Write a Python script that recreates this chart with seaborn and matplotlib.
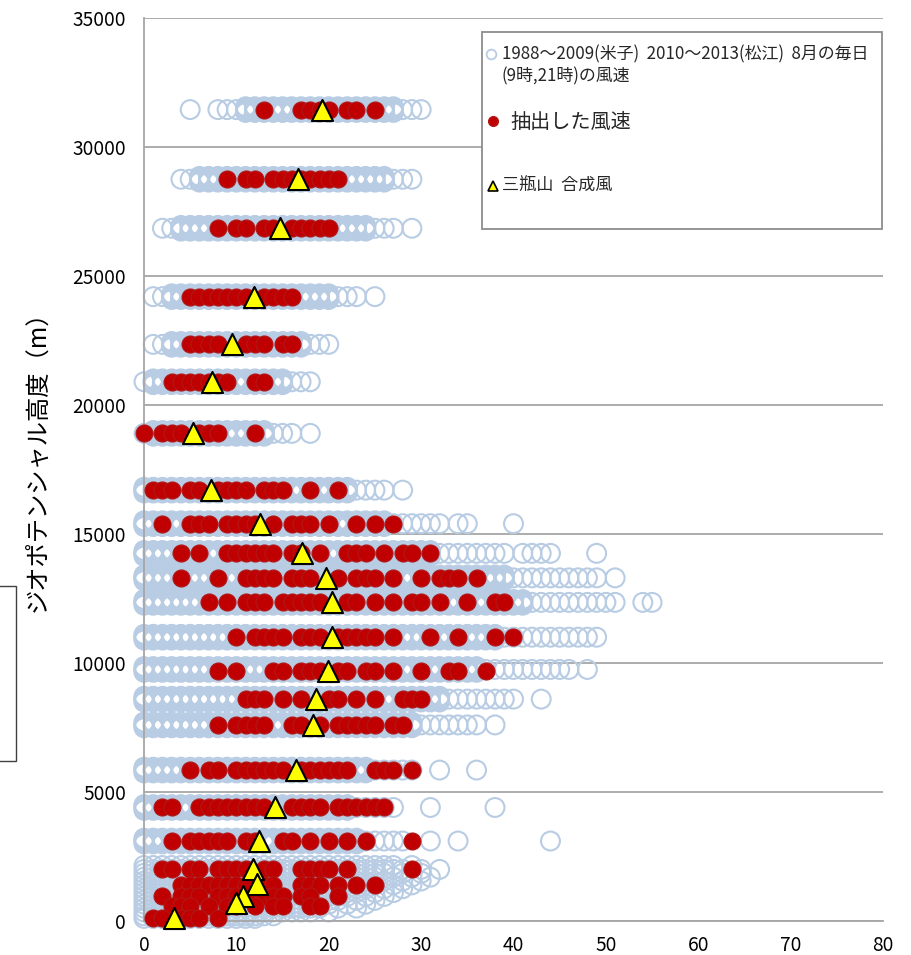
import matplotlib
matplotlib.use("Agg")
import matplotlib.pyplot as plt
import seaborn as sns
import pandas as pd
from matplotlib.patches import Rectangle

# ---------------- data ----------------
# upper-air levels: main geopotential height (m) of each level
level_heights = [31450, 28750, 26850, 24200, 22350, 20900, 18900, 16700, 15400, 14250,
                 13300, 12350, 11000, 9750, 8600, 7600, 5850, 4400, 3100]
# day-to-day height variation of each level (m)
level_extra_heights = [
    [31340, 31400, 31500, 31560],
    [28640, 28700, 28800, 28860],
    [26740, 26800, 26900, 26960],
    [24090, 24150, 24250, 24310],
    [22240, 22300, 22400, 22460],
    [20790, 20850, 20950, 21010],
    [18790, 18850, 18950, 19010],
    [16590, 16650, 16750, 16810],
    [15290, 15350, 15450, 15510],
    [14140, 14200, 14300, 14360],
    [13190, 13250, 13350, 13410],
    [12240, 12300, 12400, 12460],
    [10890, 10950, 11050, 11110],
    [9640, 9700, 9800, 9860],
    [8490, 8550, 8650, 8710],
    [7490, 7550, 7650, 7710],
    [5740, 5800, 5900, 5960],
    [4290, 4350, 4450, 4510],
    [2990, 3050, 3150, 3210],
]
# wind speeds (m/s): frequent values (all heights of the level)
level_core_speeds = [
    [11, 12, 13, 14, 15, 16, 17, 18, 19, 20, 21, 22, 23, 24, 25, 26, 27],
    [6, 7, 8, 9, 10, 11, 12, 13, 14, 15, 16, 17, 18, 19, 20, 21, 22, 23, 24, 25, 26],
    [4, 5, 6, 7, 8, 9, 10, 11, 12, 13, 14, 15, 16, 17, 18, 19, 20, 21, 22, 23, 24],
    [3, 4, 5, 6, 7, 8, 9, 10, 11, 12, 13, 14, 15, 16, 17, 18, 19, 20],
    [3, 4, 5, 6, 7, 8, 9, 10, 11, 12, 13, 14, 15, 16, 17],
    [1, 2, 3, 4, 5, 6, 7, 8, 9, 10, 11, 12, 13, 14, 15],
    [1, 2, 3, 4, 5, 6, 7, 8, 9, 10, 11, 12, 13],
    [0, 1, 2, 3, 4, 5, 6, 7, 8, 9, 10, 11, 12, 13, 14, 15, 16, 17, 18, 19, 20, 21, 22],
    [0, 1, 2, 3, 4, 5, 6, 7, 8, 9, 10, 11, 12, 13, 14, 15, 16, 17, 18, 19, 20, 21, 22, 23, 24, 25, 26],
    [0, 1, 2, 3, 4, 5, 6, 7, 8, 9, 10, 11, 12, 13, 14, 15, 16, 17, 18, 19, 20, 21, 22, 23, 24, 25, 26, 27, 28, 29, 30, 31],
    [0, 1, 2, 3, 4, 5, 6, 7, 8, 9, 10, 11, 12, 13, 14, 15, 16, 17, 18, 19, 20, 21, 22, 23, 24, 25, 26, 27, 28, 29, 30, 31, 32, 33, 34, 35, 36, 37, 38, 39],
    [0, 1, 2, 3, 4, 5, 6, 7, 8, 9, 10, 11, 12, 13, 14, 15, 16, 17, 18, 19, 20, 21, 22, 23, 24, 25, 26, 27, 28, 29, 30, 31, 32, 33, 34, 35, 36, 37, 38, 39, 40, 41],
    [0, 1, 2, 3, 4, 5, 6, 7, 8, 9, 10, 11, 12, 13, 14, 15, 16, 17, 18, 19, 20, 21, 22, 23, 24, 25, 26, 27, 28, 29, 30, 31, 32, 33, 34, 35, 36, 37, 38],
    [0, 1, 2, 3, 4, 5, 6, 7, 8, 9, 10, 11, 12, 13, 14, 15, 16, 17, 18, 19, 20, 21, 22, 23, 24, 25, 26, 27, 28, 29, 30, 31, 32, 33, 34, 35, 36],
    [0, 1, 2, 3, 4, 5, 6, 7, 8, 9, 10, 11, 12, 13, 14, 15, 16, 17, 18, 19, 20, 21, 22, 23, 24, 25, 26, 27, 28, 29, 30, 31, 32],
    [0, 1, 2, 3, 4, 5, 6, 7, 8, 9, 10, 11, 12, 13, 14, 15, 16, 17, 18, 19, 20, 21, 22, 23, 24, 25, 26, 27, 28, 29],
    [0, 1, 2, 3, 4, 5, 6, 7, 8, 9, 10, 11, 12, 13, 14, 15, 16, 17, 18, 19, 20, 21, 22, 23, 24],
    [0, 1, 2, 3, 4, 5, 6, 7, 8, 9, 10, 11, 12, 13, 14, 15, 16, 17, 18, 19, 20, 21, 22],
    [0, 1, 2, 3, 4, 5, 6, 7, 8, 9, 10, 11, 12, 13, 14, 15, 16, 17, 18, 19, 20, 21, 22, 23],
]
# less frequent values at the edges of each level's distribution
level_fringe_speeds = [
    [9, 10, 28, 29, 30],
    [4, 5, 27, 28, 29],
    [2, 3, 25, 26, 27],
    [1, 2, 21, 22, 23],
    [1, 2, 18, 19, 20],
    [0, 16, 17, 18],
    [0, 14, 15, 16],
    [23, 24, 25, 26],
    [27, 28, 29, 30],
    [32, 33, 34, 35, 36],
    [40, 41, 42, 43, 44, 45],
    [42, 43, 44, 45, 46, 47, 48],
    [39, 40, 41, 42, 43, 44],
    [37, 38, 39, 40, 41],
    [33, 34, 35, 36, 37],
    [30, 31, 32, 33],
    [25, 26, 27, 28],
    [23, 24, 25, 26],
    [24, 25, 26, 27],
]
# rare (isolated) values
level_rare_speeds = [
    [5, 8],
    [],
    [29],
    [25],
    [],
    [],
    [18],
    [28],
    [31, 32, 34, 35, 40],
    [37, 38, 39, 41, 42, 43, 44, 49],
    [46, 47, 48, 49, 51],
    [49, 50, 51, 54, 55],
    [45, 46, 47, 48, 49],
    [42, 43, 44, 45, 46, 48],
    [38, 39, 40, 43],
    [34, 35, 36, 38],
    [29, 32, 36],
    [27, 31, 38],
    [28, 31, 34, 44],
]

# surface layer (0 - 2200 m)
low_heights = [2150, 2000, 1850, 1700, 1550, 1400, 1250, 1100, 950, 800, 650, 500, 350, 200, 100]
low_speeds = [
    [0, 1, 2, 3, 4, 5, 6, 7, 8, 9, 10, 11, 12, 13, 14, 15, 16, 17, 18, 19, 20, 21, 22, 23, 24, 25, 26, 27, 29],
    [0, 1, 2, 3, 4, 5, 6, 7, 8, 9, 10, 11, 12, 13, 14, 15, 16, 17, 18, 19, 20, 21, 22, 23, 24, 25, 26, 27, 28, 30, 32],
    [0, 1, 2, 3, 4, 5, 6, 7, 8, 9, 10, 11, 12, 13, 14, 15, 16, 17, 18, 19, 20, 21, 22, 23, 24, 25, 26, 28, 30],
    [0, 1, 2, 3, 4, 5, 6, 7, 8, 9, 10, 11, 12, 13, 14, 15, 16, 17, 18, 19, 20, 21, 22, 23, 24, 25, 27, 29, 31],
    [0, 1, 2, 3, 4, 5, 6, 7, 8, 9, 10, 11, 12, 13, 14, 15, 16, 17, 18, 19, 20, 21, 22, 23, 24, 26, 28, 30],
    [0, 1, 2, 3, 4, 5, 6, 7, 8, 9, 10, 11, 12, 13, 14, 15, 16, 17, 18, 19, 20, 21, 22, 23, 24, 25, 27, 29],
    [0, 1, 2, 3, 4, 5, 6, 7, 8, 9, 10, 11, 12, 13, 14, 15, 16, 17, 18, 19, 20, 21, 22, 23, 24, 26, 28],
    [0, 1, 2, 3, 4, 5, 6, 7, 8, 9, 10, 11, 12, 13, 14, 15, 16, 17, 18, 19, 20, 21, 22, 23, 25, 27],
    [0, 1, 2, 3, 4, 5, 6, 7, 8, 9, 10, 11, 12, 13, 14, 15, 16, 17, 18, 19, 20, 21, 22, 24, 26],
    [0, 1, 2, 3, 4, 5, 6, 7, 8, 9, 10, 11, 12, 13, 14, 15, 16, 17, 18, 19, 20, 21, 23, 25],
    [0, 1, 2, 3, 4, 5, 6, 7, 8, 9, 10, 11, 12, 13, 14, 15, 16, 17, 18, 19, 20, 22, 24],
    [0, 1, 2, 3, 4, 5, 6, 7, 8, 9, 10, 11, 12, 13, 14, 15, 16, 17, 18, 19, 21, 23],
    [0, 1, 2, 3, 4, 5, 6, 7, 8, 9, 10, 11, 12, 13, 14, 15, 16, 17, 18, 20],
    [0, 1, 2, 3, 4, 5, 6, 7, 8, 9, 10, 11, 12, 13, 14],
    [0, 1, 2, 3, 4, 5, 6, 7, 8, 9, 10, 11, 12],
]

# extracted wind speeds
red_heights = [31450, 28750, 26850, 24200, 22350, 20900, 18900, 16700, 15400, 14250,
               13300, 12350, 11000, 9700, 8600, 7600, 5850, 4400, 3100, 2000,
               1400, 950, 600, 100]
red_speeds = [
    [13, 17, 18, 19, 20, 22, 23, 25],
    [9, 11, 12, 14, 15, 16, 17, 18, 19, 20, 21],
    [8, 10, 11, 13, 14, 16, 17, 18, 19, 20],
    [5, 6, 7, 8, 9, 10, 11, 13, 14, 15, 16],
    [5, 6, 7, 8, 11, 12, 13, 15, 16],
    [3, 4, 5, 6, 7, 8, 9, 12, 13],
    [0, 2, 3, 4, 6, 7, 8, 12],
    [1, 2, 3, 5, 6, 8, 9, 10, 11, 13, 14, 15, 18, 21],
    [2, 5, 6, 7, 9, 10, 11, 12, 14, 16, 17, 18, 20, 23, 25, 27],
    [4, 6, 9, 10, 11, 12, 13, 14, 16, 17, 19, 22, 23, 24, 26, 28, 29, 31],
    [4, 8, 11, 12, 13, 14, 16, 17, 18, 21, 23, 24, 25, 27, 30, 32, 33, 34, 36],
    [7, 9, 11, 12, 13, 15, 16, 17, 18, 19, 22, 23, 25, 27, 29, 30, 32, 35, 38, 39],
    [10, 12, 13, 14, 15, 17, 18, 19, 21, 22, 23, 24, 25, 27, 31, 34, 38, 40],
    [8, 10, 14, 15, 17, 18, 19, 21, 22, 24, 25, 27, 30, 33, 34, 37],
    [11, 12, 13, 15, 17, 20, 21, 23, 25, 28, 29, 30],
    [8, 10, 11, 12, 13, 16, 17, 19, 21, 22, 23, 24, 25, 27, 28],
    [5, 7, 8, 10, 11, 12, 13, 14, 15, 17, 18, 19, 20, 21, 22, 25, 26, 27, 29],
    [2, 3, 6, 7, 8, 9, 10, 11, 12, 13, 16, 17, 18, 19, 21, 22, 23, 24, 25, 26],
    [3, 5, 6, 7, 8, 9, 11, 12, 15, 16, 18, 20, 22, 24, 29],
    [2, 3, 5, 6, 8, 9, 10, 11, 13, 14, 17, 18, 19, 20, 22, 29],
    [4, 5, 6, 7, 8, 9, 10, 11, 13, 14, 17, 18, 19, 21, 23, 25],
    [2, 4, 5, 6, 8, 9, 10, 12, 13, 14, 15, 17, 18, 21],
    [3, 4, 5, 7, 9, 10, 12, 14, 15, 18, 19],
    [1, 2, 4, 5, 6, 8],
]

# 三瓶山 合成風
tri_speeds = [19.3, 16.7, 14.7, 11.9, 9.5, 7.4, 5.3, 7.3, 12.6, 17.1, 19.7, 20.4,
              20.3, 19.9, 18.6, 18.3, 16.5, 14.2, 12.4, 11.8, 12.2, 10.7, 10.0, 3.2]
tri_heights = [31450, 28750, 26850, 24200, 22350, 20900, 18900, 16700, 15400, 14250,
               13300, 12350, 11000, 9700, 8600, 7600, 5850, 4400, 3100, 2000,
               1450, 950, 700, 100]

x_ticks = [0, 10, 20, 30, 40, 50, 60, 70, 80]
y_ticks = [0, 5000, 10000, 15000, 20000, 25000, 30000, 35000]

legend_blue = "1988～2009(米子)  2010～2013(松江)  8月の毎日"
legend_blue2 = "(9時,21時)の風速"
legend_red = "抽出した風速"
legend_tri = "三瓶山  合成風"
y_label = "ジオポテンシャル高度（m）"

# ---------------- tables ----------------
rows = []
for h, extra, core, fringe, rare in zip(level_heights, level_extra_heights,
                                        level_core_speeds, level_fringe_speeds,
                                        level_rare_speeds):
    for v in core + fringe + rare:
        rows.append((v, h))
    for he in extra:
        for v in core:
            rows.append((v, he))
for h, vs in zip(low_heights, low_speeds):
    for v in vs:
        rows.append((v, h))
blue_df = pd.DataFrame(rows, columns=["speed", "height"])
red_df = pd.DataFrame(
    [(v, h) for h, vs in zip(red_heights, red_speeds) for v in vs],
    columns=["speed", "height"])
tri_df = pd.DataFrame({"speed": tri_speeds, "height": tri_heights})

# ---------------- style ----------------
sns.set_theme(style="white")
plt.rcParams["font.family"] = ["Noto Sans CJK JP", "DejaVu Sans"]

fig = plt.figure(figsize=(9.12, 9.55), dpi=100)
ax = fig.add_axes([144 / 912, 34 / 955, 739 / 912, 903 / 955])

GRID = "#a6a6a6"
BLUE = "#b8cce4"

sns.scatterplot(data=blue_df, x="speed", y="height", ax=ax, marker="o", s=185,
                color=BLUE, edgecolor=BLUE, linewidth=1.5, legend=False,
                clip_on=False, zorder=2)
ax.collections[-1].set_facecolor("none")

sns.scatterplot(data=red_df, x="speed", y="height", ax=ax, marker="o", s=150,
                color="#c00000", edgecolor="#b01818", linewidth=0.8, legend=False,
                clip_on=False, zorder=3)

sns.scatterplot(data=tri_df, x="speed", y="height", ax=ax, marker="^", s=230,
                color="#ffff00", edgecolor="black", linewidth=1.5, legend=False,
                clip_on=False, zorder=4)

ax.set_xlim(0, 80)
ax.set_ylim(0, 35000)
ax.set_xticks(x_ticks)
ax.set_xticklabels([str(t) for t in x_ticks])
ax.set_yticks(y_ticks)
ax.set_yticklabels([str(t) for t in y_ticks])
ax.set_xlabel("")
ax.set_ylabel("")

ax.set_axisbelow(True)
ax.grid(False)
ax.yaxis.grid(True, color=GRID, linewidth=1.3)
for side in ["top", "right"]:
    ax.spines[side].set_visible(False)
for side in ["left", "bottom"]:
    ax.spines[side].set_color(GRID)
    ax.spines[side].set_linewidth(1.3)
ax.tick_params(axis="both", which="major", direction="out", length=5,
               width=1.2, color=GRID, labelsize=13.8, labelcolor="black")
ax.tick_params(axis="y", pad=8)
ax.tick_params(axis="x", pad=5)
ax.set_facecolor("white")

# y label
fig.text(37 / 912, 1 - 455 / 955, y_label, rotation=90, ha="center", va="center",
         fontsize=17.5, color="black")

# ---------------- legend box ----------------
lx0 = (482 - 144) / 739
lx1 = (882 - 144) / 739
ly0 = (921 - 229) / 903
ly1 = (921 - 32) / 903
ax.add_patch(Rectangle((lx0, ly0), lx1 - lx0, ly1 - ly0, transform=ax.transAxes,
                       facecolor="white", edgecolor="#8c8c8c", linewidth=1.3,
                       zorder=10, clip_on=False))

def ax_xy(px, py):
    return (px - 144) / 739, (921 - py) / 903

mx, my = ax_xy(491, 54)
ax.plot([mx], [my], marker="o", markersize=7, markerfacecolor="none",
        markeredgecolor=BLUE, markeredgewidth=1.3, transform=ax.transAxes,
        zorder=11, clip_on=False)
tx, ty = ax_xy(502, 54)
ax.text(tx, ty, legend_blue, transform=ax.transAxes, ha="left", va="center",
        fontsize=12.2, zorder=11)
tx, ty = ax_xy(502, 76)
ax.text(tx, ty, legend_blue2, transform=ax.transAxes, ha="left", va="center",
        fontsize=12.2, zorder=11)

mx, my = ax_xy(493, 121)
ax.plot([mx], [my], marker="o", markersize=7, markerfacecolor="#c00000",
        markeredgecolor="#b01818", transform=ax.transAxes, zorder=11, clip_on=False)
tx, ty = ax_xy(510, 122)
ax.text(tx, ty, legend_red, transform=ax.transAxes, ha="left", va="center",
        fontsize=14.5, zorder=11)

mx, my = ax_xy(493, 186)
ax.plot([mx], [my], marker="^", markersize=7, markerfacecolor="#ffff00",
        markeredgecolor="black", markeredgewidth=1.2, transform=ax.transAxes,
        zorder=11, clip_on=False)
tx, ty = ax_xy(502, 186)
ax.text(tx, ty, legend_tri, transform=ax.transAxes, ha="left", va="center",
        fontsize=12.3, zorder=11)

# partial box at left edge
fig.patches.append(Rectangle((-0.02, 1 - 761 / 955), 16 / 912 + 0.02, 175 / 955,
                             transform=fig.transFigure, fill=False,
                             edgecolor="#404040", linewidth=1.0))

fig.savefig("out.png", dpi=100)
